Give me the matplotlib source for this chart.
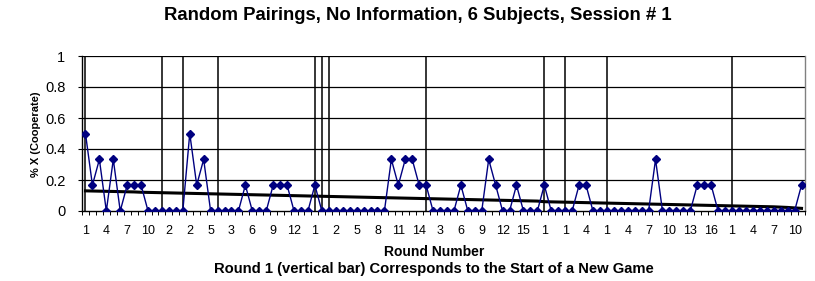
import matplotlib
matplotlib.use("Agg")
import matplotlib.pyplot as plt
import numpy as np

# ---- data ----
game_lengths = [11, 3, 5, 14, 1, 1, 14, 17, 3, 6, 18, 11]

pct_cooperate = [
    # game 1
    0.5, 0.167, 0.333, 0, 0.333, 0, 0.167, 0.167, 0.167, 0, 0,
    # game 2
    0, 0, 0,
    # game 3
    0, 0.5, 0.167, 0.333, 0,
    # game 4
    0, 0, 0, 0, 0.167, 0, 0, 0, 0.167, 0.167, 0.167, 0, 0, 0,
    # game 5
    0.167,
    # game 6
    0,
    # game 7
    0, 0, 0, 0, 0, 0, 0, 0, 0, 0.333, 0.167, 0.333, 0.333, 0.167,
    # game 8
    0.167, 0, 0, 0, 0, 0.167, 0, 0, 0, 0.333, 0.167, 0, 0, 0.167, 0, 0, 0,
    # game 9
    0.167, 0, 0,
    # game 10
    0, 0, 0.167, 0.167, 0, 0,
    # game 11
    0, 0, 0, 0, 0, 0, 0, 0.333, 0, 0, 0, 0, 0, 0.167, 0.167, 0.167, 0, 0,
    # game 12
    0, 0, 0, 0, 0, 0, 0, 0, 0, 0, 0.167,
]

trend = [
    0.130, 0.129, 0.128, 0.127, 0.126, 0.125, 0.124, 0.123, 0.121, 0.120, 0.119,
    0.118, 0.117, 0.116,
    0.115, 0.114, 0.113, 0.112, 0.111,
    0.110, 0.109, 0.108, 0.107, 0.106, 0.105, 0.104, 0.103, 0.102, 0.101, 0.100, 0.099, 0.098, 0.097,
    0.096,
    0.095,
    0.094, 0.093, 0.092, 0.091, 0.090, 0.089, 0.088, 0.087, 0.086, 0.085, 0.084, 0.083, 0.082, 0.081,
    0.080, 0.079, 0.078, 0.077, 0.076, 0.075, 0.074, 0.073, 0.072, 0.071, 0.070, 0.069, 0.068, 0.067, 0.066, 0.065, 0.064,
    0.060, 0.059, 0.058,
    0.057, 0.056, 0.055, 0.054, 0.053, 0.052,
    0.051, 0.050, 0.049, 0.048, 0.047, 0.046, 0.045, 0.044, 0.043, 0.042, 0.041, 0.040, 0.039, 0.038, 0.037, 0.036, 0.035, 0.034,
    0.033, 0.032, 0.031, 0.030, 0.029, 0.028, 0.027, 0.025, 0.023, 0.020, 0.017,
]

title = "Random Pairings, No Information, 6 Subjects, Session # 1"
xlabel = "Round Number"
subnote = "Round 1 (vertical bar) Corresponds to the Start of a New Game"
ylabel = "% X (Cooperate)"
y_ticks = [0, 0.2, 0.4, 0.6, 0.8, 1]
y_ticklabels = ["0", "0.2", "0.4", "0.6", "0.8", "1"]

# derived
round_labels = []
game_starts = []
pos = 0
for L in game_lengths:
    game_starts.append(pos)
    round_labels.extend([str(r) for r in range(1, L + 1)])
    pos += L
n = len(pct_cooperate)
x = np.arange(n)

plt.rcParams['font.family'] = ['Liberation Sans', 'DejaVu Sans']

fig = plt.figure(figsize=(8.15, 2.81), dpi=100)
ax = fig.add_axes([82 / 815, 1 - 211 / 281, (805 - 82) / 815, (211 - 56) / 281])

ax.set_xlim(-0.5, n - 0.5)
ax.set_ylim(0, 1)

# gridlines
for yv in y_ticks[1:]:
    ax.axhline(yv, color='black', lw=0.9, zorder=1)

# game start bars
ax.vlines(game_starts, 0, 1, colors='black', lw=1.1, zorder=2)

# trend line
ax.plot(x, trend, color='black', lw=2.2, zorder=3)

# data
ax.plot(x, pct_cooperate, color='#000080', lw=1.0, marker='D', markersize=4.5,
        markerfacecolor='#000080', markeredgecolor='#000080', zorder=4)

# axes styling
ax.spines['top'].set_visible(False)
ax.spines['right'].set_color('#808080')
ax.spines['right'].set_linewidth(1.0)
ax.spines['left'].set_color('black')
ax.spines['bottom'].set_color('black')
ax.spines['left'].set_linewidth(1.0)
ax.spines['bottom'].set_linewidth(1.0)

ax.set_yticks(y_ticks)
ax.set_yticklabels(y_ticklabels, fontsize=10.5)
ax.tick_params(axis='y', direction='out', length=3, width=0.8, pad=9)

ax.set_xticks(x[::3])
ax.set_xticklabels(round_labels[::3], fontsize=9)
ax.set_xticks(np.arange(-0.5, n, 1.0), minor=True)
ax.tick_params(axis='x', which='major', length=0, pad=10)
ax.tick_params(axis='x', which='minor', direction='out', length=3, width=0.7)

fig.text(418 / 815, 1 - 15 / 281, title, ha='center', va='center',
         fontsize=13.3, fontweight='bold')
fig.text(434 / 815, 1 - 252.5 / 281, xlabel, ha='center', va='center',
         fontsize=10, fontweight='bold')
fig.text(434 / 815, 1 - 269.5 / 281, subnote, ha='center', va='center',
         fontsize=10.6, fontweight='bold')
fig.text(36 / 815, 1 - 134 / 281, ylabel, ha='center', va='center',
         rotation=90, fontsize=8, fontweight='bold')

fig.savefig("out.png", dpi=100)
